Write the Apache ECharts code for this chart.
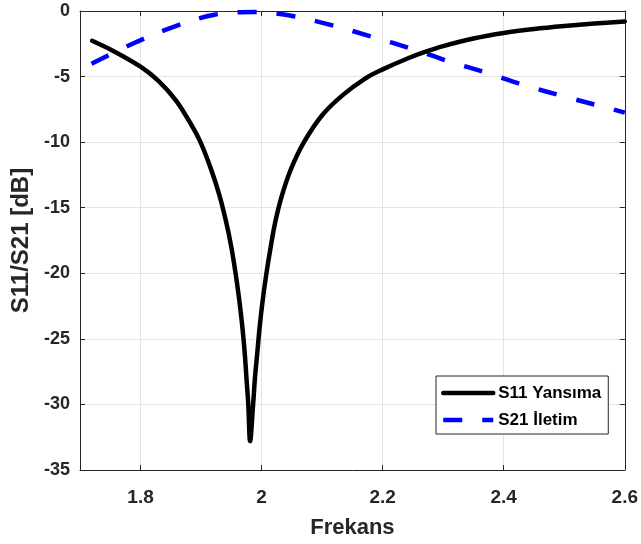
<!DOCTYPE html>
<html>
<head>
<meta charset="utf-8">
<script src="https://cdn.jsdelivr.net/npm/echarts@6/dist/echarts.min.js"></script>
<style>
  html, body { margin: 0; padding: 0; background: #fff; }
  #chart { width: 641px; height: 544px; }
</style>
</head>
<body>
<div id="chart"></div>
<script>
// Frequency ticks shown on the x axis
const xTicks = [1.8, 2.0, 2.2, 2.4, 2.6];

// S11 reflection: [frequency, dB]
const s11 = [
  [1.720, -2.27], [1.755, -3.05], [1.800, -4.25], [1.830, -5.35], [1.859, -6.85],
  [1.8835, -8.65], [1.899, -10.0], [1.916, -12.0], [1.930, -14.0], [1.941, -16.0],
  [1.950, -18.0], [1.957, -20.0], [1.963, -22.0], [1.968, -24.0], [1.972, -26.0],
  [1.975, -28.0], [1.978, -30.0], [1.981, -32.8], [1.986, -30.0], [1.989, -28.0],
  [1.993, -26.0], [1.997, -24.0], [2.002, -22.0], [2.008, -20.0], [2.015, -18.0],
  [2.023, -16.0], [2.034, -14.0], [2.049, -12.0], [2.070, -10.0], [2.100, -7.95],
  [2.133, -6.45], [2.171, -5.15], [2.200, -4.45], [2.242, -3.6], [2.270, -3.12],
  [2.300, -2.68], [2.350, -2.1], [2.400, -1.68], [2.450, -1.38], [2.500, -1.15],
  [2.550, -0.96], [2.600, -0.8]
];

// S21 transmission: [frequency, dB]
const s21 = [
  [1.719, -4.02], [1.794, -2.35], [1.857, -1.17], [1.922, -0.28], [1.988, -0.08],
  [2.053, -0.4], [2.117, -1.1], [2.183, -1.97], [2.248, -2.88], [2.308, -3.82],
  [2.374, -4.75], [2.434, -5.66], [2.500, -6.52], [2.568, -7.35], [2.600, -7.75]
];

const FONT = '"Liberation Sans", Arial, Helvetica, sans-serif';
const AXIS_COLOR = '#262626';
const GRID_COLOR = '#e3e3e3';

const chart = echarts.init(document.getElementById('chart'), null, { renderer: 'canvas' });

const tickStyle = { show: true, inside: true, length: 5, lineStyle: { color: AXIS_COLOR, width: 1 } };

chart.setOption({
  animation: false,
  backgroundColor: '#ffffff',
  grid: { left: 80, right: 13, top: 11, bottom: 70, containLabel: false },
  legend: {
    orient: 'vertical',
    left: 436,
    top: 376,
    padding: [7, 7, 4, 5],
    itemGap: 7,
    itemWidth: 50,
    itemHeight: 14,
    backgroundColor: '#ffffff',
    borderColor: AXIS_COLOR,
    borderWidth: 1,
    borderRadius: 0,
    // line samples only, no marker dot
    itemStyle: { opacity: 0 },
    lineStyle: { width: 4.5 },
    textStyle: { fontFamily: FONT, fontWeight: 'bold', fontSize: 17, color: '#000', lineHeight: 20 },
    data: ['S11 Yansıma', 'S21 İletim']
  },
  xAxis: [
    {
      type: 'value',
      min: 1.7,
      max: 2.6,
      position: 'bottom',
      name: 'Frekans',
      nameLocation: 'middle',
      nameGap: 47,
      nameTextStyle: { fontFamily: FONT, fontWeight: 'bold', fontSize: 22, color: AXIS_COLOR },
      axisLine: { show: true, onZero: false, lineStyle: { color: AXIS_COLOR, width: 1 } },
      axisTick: Object.assign({ customValues: xTicks }, tickStyle),
      axisLabel: {
        customValues: xTicks,
        margin: 18,
        fontFamily: FONT, fontWeight: 'bold', fontSize: 19, color: AXIS_COLOR,
        formatter: v => String(+v.toFixed(1))
      },
      splitLine: { show: true, lineStyle: { color: GRID_COLOR, width: 1 } }
    },
    {
      type: 'value',
      min: 1.7,
      max: 2.6,
      position: 'top',
      axisLine: { show: true, onZero: false, lineStyle: { color: AXIS_COLOR, width: 1 } },
      axisTick: Object.assign({ customValues: xTicks }, tickStyle),
      axisLabel: { show: false },
      splitLine: { show: false }
    }
  ],
  yAxis: [
    {
      type: 'value',
      min: -35,
      max: 0,
      interval: 5,
      position: 'left',
      name: 'S11/S21 [dB]',
      nameLocation: 'middle',
      nameGap: 47,
      nameRotate: 90,
      nameTextStyle: { fontFamily: FONT, fontWeight: 'bold', fontSize: 24, color: AXIS_COLOR },
      axisLine: { show: true, onZero: false, lineStyle: { color: AXIS_COLOR, width: 1 } },
      axisTick: tickStyle,
      axisLabel: { margin: 10, fontFamily: FONT, fontWeight: 'bold', fontSize: 18, color: AXIS_COLOR },
      splitLine: { show: true, lineStyle: { color: GRID_COLOR, width: 1 } }
    },
    {
      type: 'value',
      min: -35,
      max: 0,
      interval: 5,
      position: 'right',
      axisLine: { show: true, onZero: false, lineStyle: { color: AXIS_COLOR, width: 1 } },
      axisTick: tickStyle,
      axisLabel: { show: false },
      splitLine: { show: false }
    }
  ],
  series: [
    {
      name: 'S11 Yansıma',
      type: 'line',
      xAxisIndex: 0,
      yAxisIndex: 0,
      data: s11,
      showSymbol: false,
      symbol: 'none',
      smooth: 0.35,
      lineStyle: { color: '#000000', width: 4.5, cap: 'round', join: 'round' },
      itemStyle: { color: '#000000' },
      z: 3
    },
    {
      name: 'S21 İletim',
      type: 'line',
      xAxisIndex: 0,
      yAxisIndex: 0,
      data: s21,
      showSymbol: false,
      symbol: 'none',
      smooth: 0.35,
      lineStyle: { color: '#0000ff', width: 4.5, type: [19, 20], cap: 'butt' },
      itemStyle: { color: '#0000ff' },
      z: 2
    }
  ]
});
</script>
</body>
</html>
